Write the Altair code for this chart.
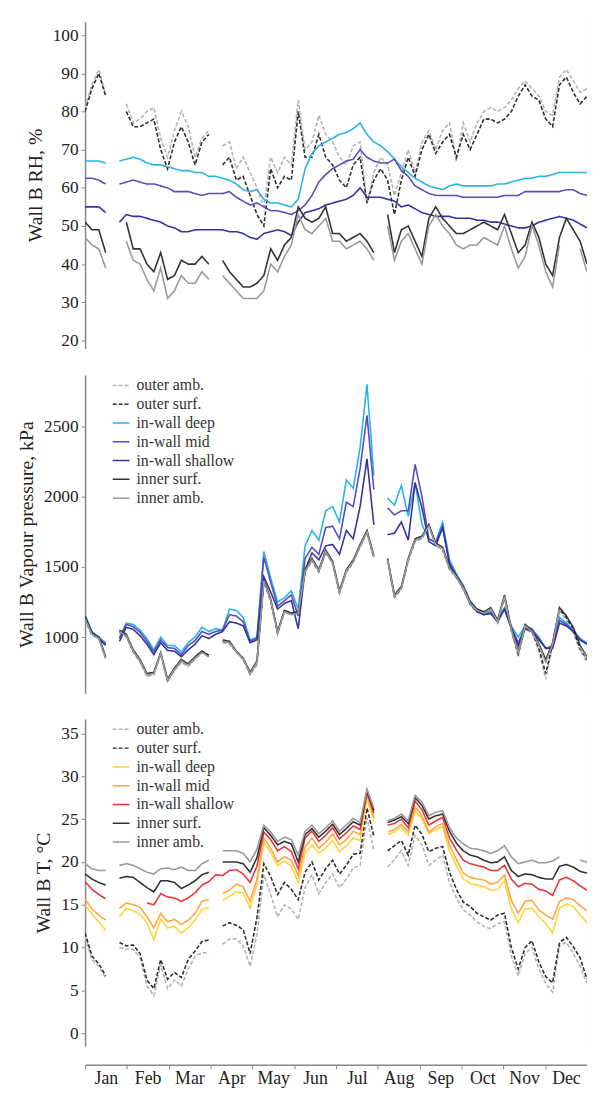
import altair as alt
import pandas as pd

FONT = "Liberation Serif"

days = [0, 5, 10, 15, 20, 25, 30, 35, 40, 45,
        50, 55, 60, 65, 70, 75, 80, 85, 90, 95,
        100, 105, 110, 115, 120, 125, 130, 135, 140, 145,
        150, 155, 160, 165, 170, 175, 180, 185, 190, 195,
        200, 205, 210, 215, 220, 225, 230, 235, 240, 245,
        250, 255, 260, 265, 270, 275, 280, 285, 290, 295,
        300, 305, 310, 315, 320, 325, 330, 335, 340, 345,
        350, 355, 360, 365]

series_names = ["outer amb.", "outer surf.", "in-wall deep", "in-wall mid",
                "in-wall shallow", "inner surf.", "inner amb."]

month_starts = [0, 30.4, 60.8, 91.3, 121.7, 152.1, 182.5, 212.9, 243.3, 273.8, 304.2, 334.6]
month_names = ["Jan", "Feb", "Mar", "Apr", "May", "Jun", "Jul", "Aug", "Sep", "Oct", "Nov", "Dec"]

N = None

# ---------------- Wall B RH, % ----------------
rh_outer_amb = [81, 87, 91, 84.5, N, N, 82, 77, 78, 80,
                81, 73, 68, 75, 80, 76, 68, 73, 75, N,
                71, 72, 65, 68, 64, 60, 55, 68, 64, 68,
                66, 83, 70, 72, 79, 74, 72, 68, 66, 71,
                72, 56, 64, 68, 66, 58, 64, 70, 64, 72,
                75, 70, 75, 77, 67, 77, 72, 77, 80, 81,
                80, 81, 83, 86, 88, 86, 84, 80, 79, 89,
                91, 88, 85, 86]
rh_outer_surf = [80, 86, 90, 84, N, N, 80, 76, 76, 77,
                 78, 70, 65, 72, 76, 72, 66, 72, 74, N,
                 66, 68, 62, 63, 58, 53, 50, 65, 60, 63,
                 62, 80, 68, 68, 74, 68, 66, 62, 60, 66,
                 68, 56, 62, 65, 62, 53, 62, 68, 63, 70,
                 74, 69, 72, 74, 68, 74, 70, 74, 78, 78,
                 77, 78, 80, 84, 87, 84, 83, 78, 76, 87,
                 89, 85, 82, 84]
rh_deep = [67, 67, 67, 66.5, N, 67, 67.5, 68, 67.5, 66.5,
           66, 66, 65.5, 65, 64.5, 64.5, 64, 64, 63, 63,
           62.5, 62, 61, 59.5, 59, 59.5, 57, 56, 56, 55.5,
           55, 57, 65, 69, 71, 72, 73, 74, 74.5, 75.5,
           77, 74, 72, 71, 69.5, 67.5, 65.5, 64, 62.5, 61.5,
           60.5, 60, 59.5, 60.5, 61, 60.5, 60.5, 60.5, 60.5, 60.5,
           61, 61, 61.5, 62, 62.5, 62.5, 63, 63, 63.5, 64,
           64, 64, 64, 64]
rh_mid = [62.5, 62.5, 62, 61, N, 61, 61.5, 62, 61.5, 61,
          61, 60.5, 60, 59, 59, 59, 58.5, 58, 58.5, 58.5,
          58.5, 59, 57.5, 56.5, 55.5, 56, 55, 54, 54, 53.5,
          53, 54, 55.5, 58, 61.5, 63.5, 65, 66, 67, 67.5,
          70, 68, 67, 66.5, 66.5, 67.5, 64.5, 63, 60.5, 59.5,
          58.5, 58, 58, 58, 58, 57.5, 57.5, 57.5, 57.5, 57.5,
          57.5, 58, 58, 58, 59, 59, 59, 59, 59, 59,
          59.5, 59.5, 58.5, 58]
rh_shallow = [55, 55, 55, 53.5, N, 51, 53, 52.5, 52.5, 52,
              51.5, 51, 50, 49.5, 48.5, 48.5, 49, 49, 49, 49,
              49, 48.5, 48.5, 48, 47, 46.5, 48, 48.5, 49, 48.5,
              47.5, 51, 53.5, 54, 54.5, 55.5, 56, 56.5, 57, 58,
              60, 57.5, 57.5, 57.5, 57, 56.5, 55, 55.5, 54.5, 53.5,
              53, 52.5, 52.5, 52.5, 52, 52, 52, 51.5, 51.5, 51,
              51, 50.5, 50, 49.5, 49.5, 50, 51, 51.5, 52, 52.5,
              52, 51.5, 50.5, 49.5]
rh_inner_surf = [51, 49, 49, 43, N, N, 51, 44, 44, 40,
                 38, 43, 36, 37, 41, 40, 40, 42, 40, N,
                 41, 38, 36, 34, 34, 35, 37, 44, 41, 45,
                 47, 55, 52, 51, 52, 55, 48, 48, 46, 47,
                 48, 46, 43, N, 53, 43, 49, 50, 46, 42,
                 52, 55, 52, 50, 48, 48, 49, 50, 51, 50,
                 49, 53, 48, 43, 45, 51, 47, 40, 37, 47,
                 52, 49, 46, 40]
rh_inner_amb = [47, 45, 44, 39, N, N, 46, 41, 40, 36,
                33, 39, 31, 33, 37, 35, 35, 38, 36, N,
                37, 35, 33, 31, 31, 31, 33, 40, 38, 42,
                45, 53, 49, 48, 50, 52, 46, 46, 44, 45,
                46, 44, 41, N, 50, 41, 46, 48, 44, 40,
                50, 53, 50, 48, 45, 44, 45, 45, 47, 46,
                45, 50, 44, 39, 42, 50, 45, 38, 34, 45,
                N, N, 44, 38]

# ---------------- Wall B Vapour pressure ----------------
vp_outer_amb = [1120, 1010, 990, 840, N, 1030, 1000, 890, 820, 720,
                730, 880, 680, 760, 820, 790, 840, 890, 860, N,
                960, 950, 890, 840, 730, 800, 1390, 1250, 1020, 1180,
                1160, 1170, 1460, 1540, 1460, 1600, 1520, 1310, 1460, 1530,
                1640, 1740, 1560, N, 1540, 1280, 1340, 1540, 1680, 1700,
                1790, 1650, 1620, 1480, 1420, 1340, 1230, 1180, 1160, 1190,
                1100, 1280, 1040, 860, 1060, 1030, 900, 700, 940, 1190,
                1120, 1030, 900, 820]
vp_outer_surf = [1130, 1020, 1000, 850, N, 1040, 1010, 900, 830, 730,
                 740, 885, 690, 770, 830, 800, 850, 900, 870, N,
                 970, 960, 895, 845, 740, 820, 1400, 1260, 1030, 1190,
                 1170, 1180, 1470, 1550, 1470, 1610, 1530, 1320, 1470, 1540,
                 1650, 1750, 1570, N, 1550, 1290, 1350, 1550, 1690, 1710,
                 1800, 1660, 1630, 1490, 1430, 1350, 1240, 1190, 1170, 1200,
                 1110, 1290, 1050, 880, 1080, 1040, 920, 740, 950, 1200,
                 1140, 1050, 920, 840]
vp_deep = [1160, 1040, 1000, 960, N, 1000, 1100, 1090, 1050, 990,
           910, 1000, 940, 940, 895, 960, 1000, 1070, 1040, 1060,
           1050, 1200, 1190, 1140, 980, 1000, 1610, 1420, 1250, 1280,
           1330, 1200, 1650, 1760, 1690, 1900, 1930, 1820, 2120, 2060,
           2350, 2800, 2150, N, 1990, 1940, 2080, 1860, 2100, 1800,
           1700, 1680, 1820, 1550, 1450, 1370, 1260, 1200, 1170, 1180,
           1120, 1210, 1080, 1000, 1080, 1060, 1000, 920, 940, 1140,
           1100, 1050, 990, 960]
vp_mid = [1150, 1030, 990, 950, N, 990, 1090, 1075, 1035, 970,
          895, 980, 925, 920, 875, 940, 975, 1040, 1020, 1040,
          1050, 1160, 1150, 1110, 970, 990, 1570, 1390, 1220, 1260,
          1300, 1150, 1560, 1640, 1590, 1780, 1790, 1700, 1960, 1930,
          2200, 2580, 2050, N, 1920, 1870, 1900, 1900, 2230, 2000,
          1700, 1670, 1790, 1530, 1440, 1360, 1250, 1190, 1160, 1170,
          1110, 1200, 1070, 960, 1070, 1050, 990, 920, 930, 1120,
          1090, 1040, 980, 950]
vp_shallow = [1140, 1030, 990, 940, N, 970, 1070, 1055, 1010, 950,
              875, 960, 905, 900, 860, 910, 950, 1010, 990, 1020,
              1040, 1110, 1100, 1080, 960, 980, 1430, 1320, 1200, 1240,
              1260, 1060, 1480, 1600, 1550, 1650, 1660, 1590, 1760, 1700,
              1930, 2270, 1800, N, 1730, 1740, 1820, 1690, 2100, 1920,
              1680, 1650, 1780, 1520, 1430, 1350, 1240, 1180, 1160, 1170,
              1110, 1200, 1060, 940, 1060, 1040, 980, 920, 920, 1100,
              1080, 1040, 980, 950]
vp_inner_surf = [1140, 1030, 1000, 860, N, 1050, 1020, 910, 840, 740,
                 750, 890, 700, 780, 840, 810, 860, 900, 870, N,
                 980, 970, 900, 850, 750, 830, 1410, 1270, 1040, 1190,
                 1170, 1180, 1480, 1560, 1480, 1620, 1540, 1330, 1480, 1550,
                 1660, 1760, 1580, N, 1560, 1300, 1360, 1560, 1700, 1720,
                 1800, 1670, 1640, 1500, 1440, 1360, 1250, 1200, 1180, 1210,
                 1120, 1300, 1060, 900, 1090, 1050, 950, 840, 960, 1210,
                 1150, 1070, 940, 860]
vp_inner_amb = [1130, 1020, 990, 850, N, 1040, 1010, 900, 830, 730,
                740, 885, 690, 770, 830, 800, 850, 890, 860, N,
                970, 960, 895, 845, 740, 820, 1400, 1260, 1030, 1180,
                1160, 1170, 1470, 1550, 1470, 1610, 1530, 1320, 1470, 1540,
                1650, 1750, 1570, N, 1550, 1290, 1350, 1550, 1690, 1710,
                1790, 1660, 1630, 1490, 1430, 1350, 1240, 1190, 1170, 1200,
                1110, 1290, 1050, 890, 1080, 1040, 940, 820, 950, 1200,
                N, N, 930, 850]

# ---------------- Wall B T, degC ----------------
t_outer_amb = [11.2, 8.6, 7.8, 6.4, N, 10.0, 9.8, 9.8, 8.8, 5.5,
               4.4, 8.0, 5.2, 6.2, 5.5, 7.5, 9.0, 9.4, 9.4, N,
               10.4, 11.0, 11.0, 10.2, 7.8, 11.5, 18.5, 16.2, 13.6, 15.0,
               14.5, 13.3, 17.0, 18.5, 16.3, 17.6, 18.6, 17.0, 18.0, 19.3,
               19.6, 25.2, 21.3, N, 19.4, 20.3, 21.3, 19.6, 23.1, 22.0,
               19.6, 20.2, 20.8, 17.6, 15.8, 14.4, 13.8, 13.0, 12.5, 12.2,
               12.8, 13.0, 9.0, 6.7, 9.3, 10.0, 7.5, 5.8, 4.8, 10.2,
               10.6, 9.3, 7.9, 5.8]
t_outer_surf = [11.7, 9.0, 8.1, 6.7, N, 10.6, 10.2, 10.3, 9.3, 6.2,
                5.2, 8.6, 6.3, 7.1, 6.5, 8.6, 9.6, 10.7, 10.9, N,
                12.5, 12.9, 12.6, 12.1, 9.3, 13.5, 19.8, 18.3, 16.2, 17.6,
                16.8, 15.6, 18.8, 20.0, 17.9, 19.2, 20.2, 18.6, 19.6, 20.9,
                21.0, 26.3, 23.0, N, 21.3, 21.9, 22.5, 20.8, 24.3, 23.2,
                21.2, 21.6, 21.8, 18.8, 16.8, 15.3, 14.8, 14.0, 13.6, 13.2,
                13.8, 14.0, 10.0, 7.5, 10.0, 10.8, 8.3, 6.6, 5.9, 10.6,
                11.2, 10.1, 8.8, 6.3]
t_deep = [15.0, 13.9, 13.0, 12.0, N, 13.6, 14.6, 14.3, 13.9, 12.9,
          10.9, 13.3, 12.3, 12.5, 11.7, 12.3, 13.2, 14.4, 14.7, N,
          15.5, 16.0, 16.5, 16.4, 14.6, 17.4, 22.3, 21.1, 19.6, 20.1,
          19.5, 17.6, 21.0, 22.0, 21.0, 21.6, 22.5, 21.2, 21.9, 22.8,
          22.5, 27.4, 24.8, N, 23.2, 23.5, 24.1, 23.1, 26.0, 25.0,
          23.3, 23.8, 24.1, 21.3, 19.6, 18.0, 17.5, 17.3, 17.1, 16.7,
          16.8, 17.8, 14.5, 12.9, 14.5, 14.6, 13.6, 12.8, 11.7, 14.6,
          15.1, 14.8, 13.8, 12.9]
t_mid = [15.7, 14.5, 13.8, 13.2, N, 14.6, 15.2, 15.0, 14.7, 13.6,
         12.3, 14.0, 13.0, 13.3, 12.7, 13.2, 14.0, 15.4, 15.6, N,
         16.3, 16.7, 17.4, 17.1, 15.4, 18.0, 22.8, 21.6, 20.0, 20.6,
         20.2, 18.4, 21.8, 22.8, 21.6, 22.3, 23.3, 22.0, 22.6, 23.6,
         23.2, 27.8, 25.2, N, 23.5, 23.8, 24.4, 23.5, 26.4, 25.4,
         23.5, 24.1, 24.5, 22.0, 20.3, 18.7, 18.2, 18.0, 17.9, 17.4,
         17.6, 18.5, 15.5, 14.0, 15.4, 15.5, 14.4, 13.8, 13.3, 15.4,
         15.8, 15.6, 14.9, 14.3]
t_shallow = [17.7, 16.8, 16.2, 15.7, N, N, N, N, N, 15.2,
             15.0, 16.3, 15.9, 15.8, 15.4, 15.8, 16.4, 17.3, 17.7, 18.5,
             18.4, 19.0, 19.1, 18.6, 17.6, 19.5, 23.5, 22.6, 21.3, 21.8,
             21.2, 19.2, 22.8, 23.6, 22.4, 23.1, 24.0, 22.7, 23.4, 24.2,
             23.8, 28.1, 25.7, N, 24.3, 24.5, 25.0, 24.0, 27.1, 26.1,
             24.3, 24.8, 25.2, 22.8, 21.4, 20.2, 19.8, 19.6, 19.4, 19.0,
             19.0, 19.6, 18.0, 17.1, 17.5, 17.4, 16.8, 16.6, 16.1, 17.9,
             18.2, 17.8, 17.2, 16.7]
t_inner_surf = [18.6, 18.0, 17.6, 17.3, N, 18.1, 18.3, 18.2, 17.6, 17.0,
                16.5, 17.8, 17.8, 17.6, 16.9, 17.3, 17.8, 18.5, 18.8, N,
                20.0, 20.0, 20.0, 19.8, 18.8, 20.5, 24.0, 23.1, 22.0, 22.4,
                22.1, 20.0, 23.2, 23.9, 22.9, 23.6, 24.4, 23.2, 23.9, 24.7,
                24.3, 28.3, 26.0, N, 24.6, 24.9, 25.3, 24.5, 27.5, 26.6,
                25.0, 25.4, 25.6, 23.6, 22.2, 21.3, 20.8, 20.6, 20.2, 19.9,
                20.0, 20.6, 19.0, 18.3, 18.6, 18.5, 18.2, 18.0, 18.0, 19.5,
                19.7, 19.4, 18.9, 18.7]
t_inner_amb = [19.8, 19.2, 19.0, 19.0, N, 19.6, 19.8, 19.6, 19.2, 18.8,
               18.6, 19.2, 19.3, 19.1, 19.4, 19.0, 19.0, 19.8, 20.2, N,
               21.3, 21.3, 21.3, 21.0, 20.0, 21.5, 24.3, 23.5, 22.4, 22.9,
               22.6, 20.8, 23.6, 24.3, 23.3, 24.0, 24.8, 23.6, 24.3, 25.1,
               24.6, 28.5, 26.3, N, 24.8, 25.1, 25.6, 24.8, 27.8, 27.0,
               25.4, 25.8, 26.0, 24.0, 22.8, 22.1, 21.6, 21.5, 21.3, 21.0,
               21.3, 21.9, 20.6, 19.8, 20.0, 20.2, 19.9, 19.9, 20.1, 20.6,
               N, N, 20.2, 20.0]

moist_colors = ["#b4b4b4", "#2f2f2f", "#2ab4e6", "#5a4cbf", "#34349e", "#333333", "#9a9a9a"]
temp_colors = ["#b4b4b4", "#2f2f2f", "#ffd43b", "#ffa743", "#e8363a", "#333333", "#9a9a9a"]
dash_range = [[4, 2], [4, 2], [1, 0], [1, 0], [1, 0], [1, 0], [1, 0]]


def to_long(arrays):
    rows = []
    for name, vals in zip(series_names, arrays):
        assert len(vals) == len(days), (name, len(vals))
        seg = 0
        gap = True
        for d, v in zip(days, vals):
            if v is None:
                gap = True
                continue
            if gap:
                seg += 1
                gap = False
            rows.append({"day": d, "value": v, "series": name, "seg": f"{name}-{seg}"})
    return pd.DataFrame(rows)


W = 508
x_scale = alt.Scale(domain=[0, 365], nice=False, zero=False)

label_expr = " : ".join(
    f"datum.value < {m + 1} ? '{n}'" for m, n in zip(month_starts, month_names)
) + " : ''"


def x_axis(with_x):
    if not with_x:
        return None
    return alt.Axis(values=month_starts, labelExpr=label_expr, labelOffset=21,
                    labelFlush=False, labelOverlap=False,
                    offset=19, title=None, grid=False, tickSize=4,
                    labelFontSize=18, labelPadding=1, domainColor="#888",
                    tickColor="#888", domainWidth=1.5)


def panel(arrays, colors, ydomain, yticks, ytitle, height, with_legend, with_x):
    df = to_long(arrays)
    if with_legend:
        leg = alt.Legend(title=None, orient="none", legendX=27, legendY=1,
                         symbolType="stroke", symbolSize=289, symbolStrokeWidth=1.5,
                         labelFont=FONT, labelFontSize=16, labelColor="#333",
                         rowPadding=1, labelOffset=6, padding=0)
    else:
        leg = None
    y_scale = alt.Scale(domain=ydomain, nice=False, zero=False)
    lines = alt.Chart(df).mark_line(strokeWidth=1.6, clip=True).encode(
        x=alt.X("day:Q", scale=x_scale, axis=x_axis(with_x)),
        y=alt.Y("value:Q", scale=y_scale,
                axis=alt.Axis(values=yticks, title=ytitle, grid=False, tickSize=4, format="d",
                              labelPadding=3, titlePadding=7, domainColor="#888",
                              tickColor="#888", domainWidth=1.5)),
        color=alt.Color("series:N", scale=alt.Scale(domain=series_names, range=colors), legend=leg),
        strokeDash=alt.StrokeDash("series:N", scale=alt.Scale(domain=series_names, range=dash_range),
                                  legend=leg),
        detail="seg:N",
    )
    border = alt.Chart(df).mark_line(strokeOpacity=0).encode(
        x=alt.X("day:Q", scale=x_scale, axis=x_axis(with_x)),
        y=alt.Y("value:Q", scale=y_scale,
                axis=alt.Axis(orient="right", labels=False, ticks=False, title=None,
                              grid=False, domainColor="#b0b0b0", domainWidth=1)),
        detail="seg:N",
    )
    return alt.layer(lines, border).resolve_axis(y="independent").properties(width=W, height=height)


p1 = panel([rh_outer_amb, rh_outer_surf, rh_deep, rh_mid, rh_shallow, rh_inner_surf, rh_inner_amb],
           moist_colors, [17.9, 103.6], [20, 30, 40, 50, 60, 70, 80, 90, 100],
           "Wall B RH, %", 331, False, False)
p2 = panel([vp_outer_amb, vp_outer_surf, vp_deep, vp_mid, vp_shallow, vp_inner_surf, vp_inner_amb],
           moist_colors, [600, 2866], [1000, 1500, 2000, 2500],
           "Wall B Vapour pressure, kPa", 322, True, False)
p3 = panel([t_outer_amb, t_outer_surf, t_deep, t_mid, t_shallow, t_inner_surf, t_inner_amb],
           temp_colors, [-1.5, 36.7], [0, 5, 10, 15, 20, 25, 30, 35],
           "Wall B T, °C", 331, True, True)

chart = alt.vconcat(p1, p2, p3, spacing=26).resolve_scale(
    color="independent", strokeDash="independent"
).properties(
    padding={"left": 9, "top": 7, "right": 0, "bottom": 0},
    background="white",
).configure_view(stroke=None).configure_axis(
    labelFont=FONT, labelFontSize=17.5, labelColor="#222",
    titleFont=FONT, titleFontSize=20, titleFontWeight="normal", titleColor="#222"
)

chart.save("out.html", embed_options={"renderer": "svg", "actions": False})
